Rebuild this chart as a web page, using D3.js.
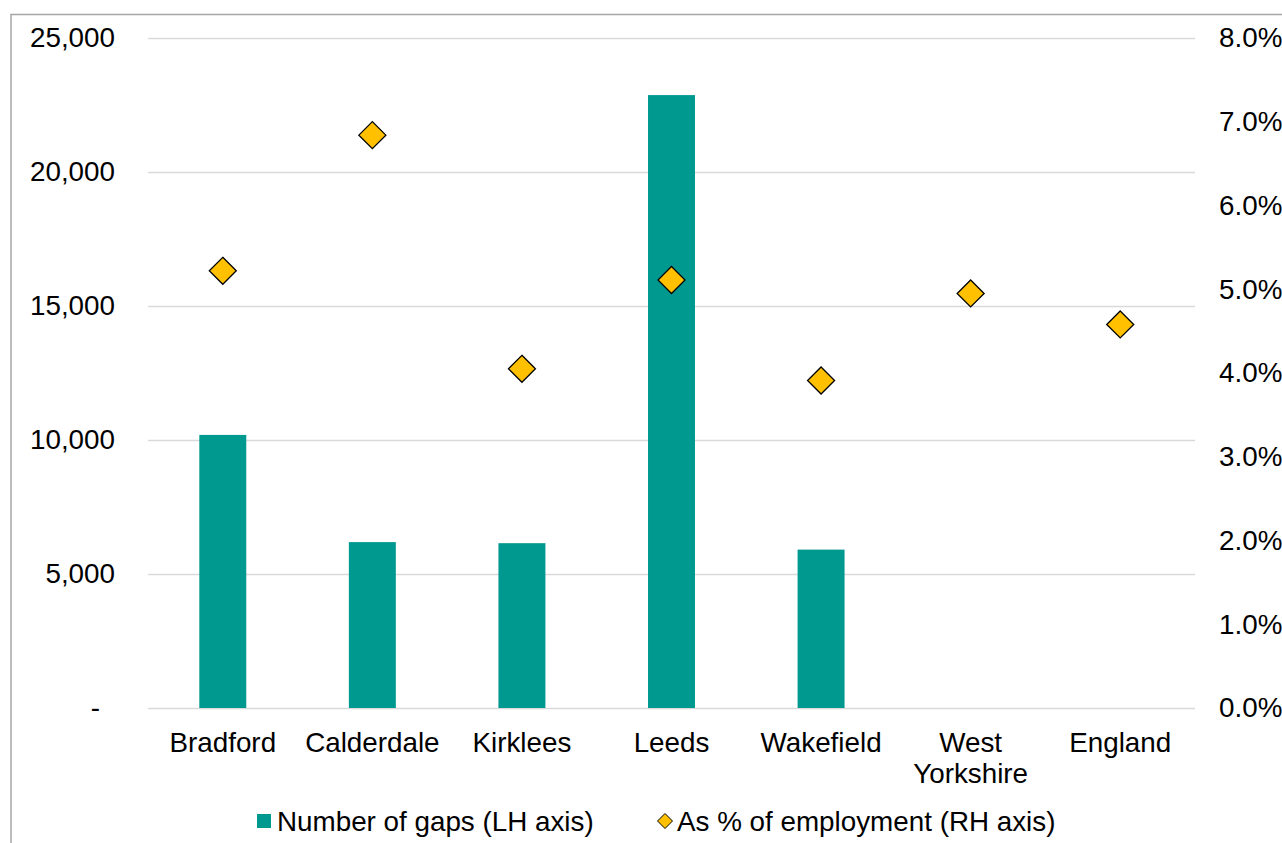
<!DOCTYPE html>
<html><head><meta charset="utf-8">
<script src="https://cdn.jsdelivr.net/npm/d3@7"></script>
<style>
html,body{margin:0;padding:0;background:#fff;}
svg{display:block;font-family:"Liberation Sans",Arial,sans-serif;}
</style></head>
<body>
<svg id="chart" width="1282" height="843"></svg>
<script>
const categories = ["Bradford","Calderdale","Kirklees","Leeds","Wakefield","West Yorkshire","England"];
const gaps = [10190, 6190, 6150, 22870, 5910, null, null];
const pctEmployment = [5.22, 6.84, 4.05, 5.11, 3.91, 4.95, 4.58];
const leftTicks = [0, 5000, 10000, 15000, 20000, 25000];
const rightTicks = [0,1,2,3,4,5,6,7,8];
const legendLabels = ["Number of gaps (LH axis)", "As % of employment (RH axis)"];

const barColor = "#009990", diamondColor = "#FFC000";
const svg = d3.select("#chart");
const L = 148, R = 1195, T = 38, B = 708;
const fs = 27.8;

// chart frame
svg.append("path").attr("d", `M11,843 V14.5 H1282`).attr("fill","none").attr("stroke","#a6a6a6").attr("stroke-width",1.5);

const x = d3.scaleBand().domain(categories).range([L,R]).paddingInner(0.686).paddingOuter(0.343);
const yL = d3.scaleLinear().domain([0,25000]).range([B,T]);
const yR = d3.scaleLinear().domain([0,8]).range([B,T]);

// gridlines
svg.append("g").selectAll("line").data(leftTicks).join("line")
  .attr("x1",L).attr("x2",R).attr("y1",d=>yL(d)+0.5).attr("y2",d=>yL(d)+0.5)
  .attr("stroke","#d9d9d9").attr("stroke-width",1.3);

// left axis
const fmtL = d => d===0 ? "-" : d3.format(",")(d);
const gL = svg.append("g").attr("transform",`translate(${115},0)`)
  .call(d3.axisLeft(yL).tickValues(leftTicks).tickFormat(fmtL).tickSize(0).tickPadding(0));
gL.select(".domain").remove();
gL.selectAll("text").attr("font-size",fs).attr("fill","#000").attr("font-family","Liberation Sans, Arial, sans-serif")
  .attr("dx", d=> d===0 ? -15 : 0);

// right axis
const gR = svg.append("g").attr("transform",`translate(${1219},0)`)
  .call(d3.axisRight(yR).tickValues(rightTicks).tickFormat(d=>d3.format(".1f")(d)+"%").tickSize(0).tickPadding(0));
gR.select(".domain").remove();
gR.selectAll("text").attr("font-size",fs).attr("fill","#000").attr("font-family","Liberation Sans, Arial, sans-serif");

// bars
svg.append("g").selectAll("rect").data(categories.map((c,i)=>({c,v:gaps[i]})).filter(d=>d.v!=null)).join("rect")
  .attr("x",d=>x(d.c)).attr("width",x.bandwidth())
  .attr("y",d=>yL(d.v)).attr("height",d=>B-yL(d.v))
  .attr("fill",barColor);

// diamonds
const dia = 13.5;
svg.append("g").selectAll("path").data(categories.map((c,i)=>({c,v:pctEmployment[i]}))).join("path")
  .attr("transform",d=>`translate(${x(d.c)+x.bandwidth()/2},${yR(d.v)})`)
  .attr("d",`M0,${-dia} L${dia},0 L0,${dia} L${-dia},0 Z`)
  .attr("fill",diamondColor).attr("stroke","#000").attr("stroke-width",1.3);

// category labels
const xg = svg.append("g").attr("transform",`translate(0,${B})`)
  .call(d3.axisBottom(x).tickSize(0).tickPadding(0));
xg.select(".domain").remove();
xg.selectAll("text").remove();
xg.selectAll(".tick").each(function(d){
  const words = d === "West Yorkshire" ? ["West","Yorkshire"] : [d];
  const t = d3.select(this).append("text").attr("text-anchor","middle").attr("font-size",fs).attr("fill","#000");
  words.forEach((w,i)=>t.append("tspan").attr("x",0).attr("y",44 + i*31).text(w));
});

// legend
const lg = svg.append("g");
lg.append("rect").attr("x",257).attr("y",814).attr("width",14).attr("height",14).attr("fill",barColor);
lg.append("text").attr("x",277).attr("y",831).attr("font-size",fs).text(legendLabels[0]);
const ld = 7.5;
lg.append("path").attr("transform","translate(665,821)")
  .attr("d",`M0,${-ld} L${ld},0 L0,${ld} L${-ld},0 Z`).attr("fill",diamondColor).attr("stroke","#000").attr("stroke-width",1);
lg.append("text").attr("x",677).attr("y",831).attr("font-size",fs).text(legendLabels[1]);
</script>
</body></html>
